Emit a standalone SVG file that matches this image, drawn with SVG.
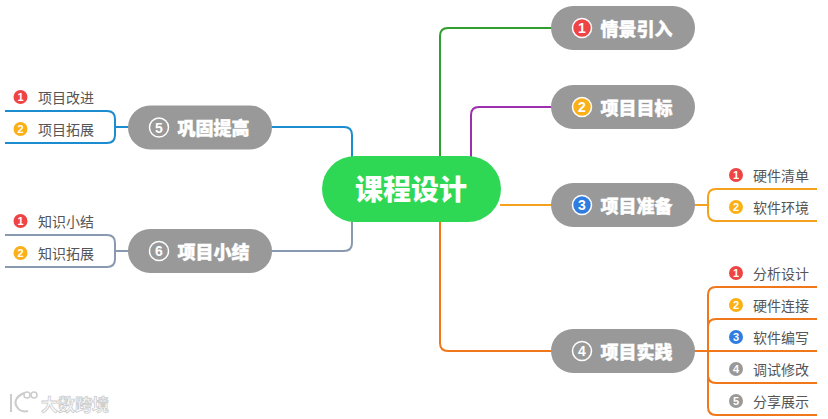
<svg xmlns="http://www.w3.org/2000/svg" width="828" height="419" viewBox="0 0 828 419">
<style>
text{font-family:"Noto Sans CJK SC","Noto Sans",sans-serif}
.c{fill:none;stroke-width:2}
.t{fill:#999}
.tl{fill:#fff;font-size:18px;font-weight:900;dominant-baseline:central;stroke:#fff;stroke-width:.4}
.sl{fill:#555;font-size:14px;dominant-baseline:central}
.n{fill:#fff;font-size:14px;font-weight:700;text-anchor:middle;dominant-baseline:central;font-family:"Liberation Sans",sans-serif}
.m{font-size:11px}
.ic{stroke:#fff;stroke-width:1.500}
.r{fill:#ef4444}.y{fill:#fbb017}.b{fill:#2f7de1}.g{fill:#999}
</style>
<rect width="828" height="419" fill="#fff"/>
<g id="connectors">
<path class="c" stroke="#2f9e2f" d="M440 157V36Q440 28 448 28H552"/>
<path class="c" stroke="#9c2fae" d="M471 157V115Q471 107 479 107H552"/>
<path class="c" stroke="#f4a11d" d="M500 205H552"/>
<path class="c" stroke="#f0781a" d="M440 221V343Q440 351 448 351H552"/>
<path class="c" stroke="#1b8ccf" d="M352 157V135Q352 127 344 127H271"/>
<path class="c" stroke="#8899b0" d="M352 221V243Q352 251 344 251H271"/>
<path class="c" stroke="#f4a11d" d="M694 205H708M817 189H716Q708 189 708 197V213Q708 221 716 221H817"/>
<path class="c" stroke="#f0781a" d="M694 351H817M817 287H716Q708 287 708 295V407Q708 415 716 415H817M817 319H716Q708 319 708 327M817 383H716Q708 383 708 375"/>
<path class="c" stroke="#1b8ccf" d="M129 127H115M5 111H107Q115 111 115 119V135Q115 143 107 143H5"/>
<path class="c" stroke="#8899b0" d="M129 251H115M5 235H107Q115 235 115 243V259Q115 267 107 267H5"/>
</g>
<g id="root"><rect x="322" y="156" width="179" height="66" rx="33" fill="#2ed855"/><text x="411" y="188" font-size="28" font-weight="900" fill="#fff" text-anchor="middle" dominant-baseline="central">课程设计</text></g>
<g id="n1"><rect class="t" x="551" y="6" width="144" height="44" rx="22"/><circle class="ic r" cx="582" cy="28" r="9.500"/><text class="n" x="582" y="28">1</text><text class="tl" x="600.500" y="27.500">情景引入</text></g>
<g id="n2"><rect class="t" x="551" y="85" width="144" height="44" rx="22"/><circle class="ic y" cx="582" cy="107" r="9.500"/><text class="n" x="582" y="107">2</text><text class="tl" x="600.500" y="106.500">项目目标</text></g>
<g id="n3"><rect class="t" x="551" y="183" width="144" height="44" rx="22"/><circle class="ic b" cx="582" cy="205" r="9.500"/><text class="n" x="582" y="205">3</text><text class="tl" x="600.500" y="204.500">项目准备</text></g>
<g id="n4"><rect class="t" x="551" y="329" width="144" height="44" rx="22"/><circle class="ic g" cx="582" cy="351" r="9.500"/><text class="n" x="582" y="351">4</text><text class="tl" x="600.500" y="350.500">项目实践</text></g>
<g id="n5"><rect class="t" x="128" y="105.500" width="144" height="44" rx="22"/><circle class="ic g" cx="159" cy="127.500" r="9.500"/><text class="n" x="159" y="127.500">5</text><text class="tl" x="177.500" y="127">巩固提高</text></g>
<g id="n6"><rect class="t" x="128" y="229" width="144" height="44" rx="22"/><circle class="ic g" cx="159" cy="251" r="9.500"/><text class="n" x="159" y="251">6</text><text class="tl" x="177.500" y="250.500">项目小结</text></g>
<g id="s5-1"><circle class="r" cx="20.500" cy="97" r="7"/><text class="n m" x="20.500" y="97">1</text><text class="sl" x="38" y="97">项目改进</text></g>
<g id="s5-2"><circle class="y" cx="20.500" cy="129" r="7"/><text class="n m" x="20.500" y="129">2</text><text class="sl" x="38" y="129">项目拓展</text></g>
<g id="s6-1"><circle class="r" cx="20.500" cy="221" r="7"/><text class="n m" x="20.500" y="221">1</text><text class="sl" x="38" y="221">知识小结</text></g>
<g id="s6-2"><circle class="y" cx="20.500" cy="253" r="7"/><text class="n m" x="20.500" y="253">2</text><text class="sl" x="38" y="253">知识拓展</text></g>
<g id="s3-1"><circle class="r" cx="736" cy="175" r="7"/><text class="n m" x="736" y="175">1</text><text class="sl" x="753" y="174.500">硬件清单</text></g>
<g id="s3-2"><circle class="y" cx="736" cy="207" r="7"/><text class="n m" x="736" y="207">2</text><text class="sl" x="753" y="206.500">软件环境</text></g>
<g id="s4-1"><circle class="r" cx="736" cy="273" r="7"/><text class="n m" x="736" y="273">1</text><text class="sl" x="753" y="272.500">分析设计</text></g>
<g id="s4-2"><circle class="y" cx="736" cy="305" r="7"/><text class="n m" x="736" y="305">2</text><text class="sl" x="753" y="304.500">硬件连接</text></g>
<g id="s4-3"><circle class="b" cx="736" cy="337" r="7"/><text class="n m" x="736" y="337">3</text><text class="sl" x="753" y="336.500">软件编写</text></g>
<g id="s4-4"><circle class="g" cx="736" cy="369" r="7"/><text class="n m" x="736" y="369">4</text><text class="sl" x="753" y="368.500">调试修改</text></g>
<g id="s4-5"><circle class="g" cx="736" cy="401" r="7"/><text class="n m" x="736" y="401">5</text><text class="sl" x="753" y="400.500">分享展示</text></g>
<g id="watermark">
<path d="M11 394V412M24 393C15 397 14 403 17 407C19 411 24 412 28 411" fill="none" stroke="#ccc" stroke-width="2"/>
<circle cx="27" cy="395" r="3" fill="none" stroke="#ccc" stroke-width="1.500"/><circle cx="34" cy="395" r="3" fill="none" stroke="#ccc" stroke-width="1.500"/>
<text x="41" y="403" font-size="17" font-weight="700" fill="#fff" stroke="#ccc" stroke-width=".8" dominant-baseline="central">大数跨境</text>
</g>
</svg>
